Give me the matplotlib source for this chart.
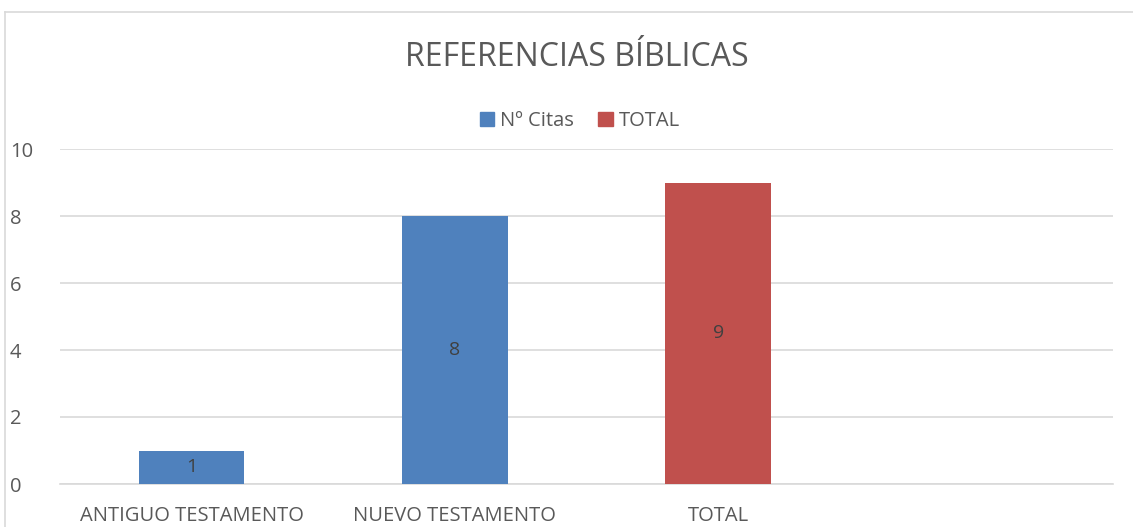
import matplotlib.pyplot as plt
from matplotlib.lines import Line2D
from matplotlib.patches import Patch

categories = ['ANTIGUO TESTAMENTO', 'NUEVO TESTAMENTO', 'TOTAL', '']
citas = [1, 8, None, None]
total = [None, None, 9, None]
series_names = ['Nº Citas', 'TOTAL']

blue = '#4F81BD'
red = '#C0504D'
text_col = '#595959'

plt.rcParams['font.family'] = ['Open Sans', 'DejaVu Sans']

W, H = 1133, 527
fig = plt.figure(figsize=(W / 100, H / 100), dpi=100)
ax = fig.add_axes([60 / W, 1 - 484 / H, (1113 - 60) / W, (484 - 149) / H])

x = list(range(len(categories)))
for vals, colour in [(citas, blue), (total, red)]:
    for xi, v in zip(x, vals):
        if v is None:
            continue
        ax.bar(xi, v, width=0.4, color=colour, zorder=3)
        ax.text(xi, v / 2, str(v), ha='center', va='center',
                fontsize=14, color='#404040', zorder=4)

ax.set_xlim(-0.5, len(categories) - 0.5)
ax.set_ylim(0, 10)
ax.set_yticks(range(0, 11, 2))
ax.yaxis.grid(True, color='#d9d9d9', linewidth=1.2, zorder=0)
ax.set_axisbelow(True)
ax.set_xticks(x)
ax.set_xticklabels(categories)
ax.tick_params(length=0, labelsize=14.5, colors=text_col, pad=16)
ax.tick_params(axis='y', pad=36)
for lab in ax.get_yticklabels():
    lab.set_ha('left')
for side in ['top', 'right', 'left']:
    ax.spines[side].set_visible(False)
ax.spines['bottom'].set_color('#d9d9d9')
ax.spines['bottom'].set_linewidth(1.2)

fig.text(577 / W, 1 - 57 / H, 'REFERENCIAS BÍBLICAS', ha='center', va='center',
         fontsize=23, color=text_col)

handles = [Patch(color=blue), Patch(color=red)]
fig.legend(handles, series_names, loc='center', bbox_to_anchor=(580 / W, 1 - 121 / H),
           ncol=2, frameon=False, fontsize=14.5, labelcolor=text_col,
           handlelength=0.7, handleheight=0.7, handletextpad=0.3, columnspacing=1.2)

# chart border (cropped at right and bottom)
fig.add_artist(Line2D([4.5 / W, 4.5 / W], [0, 1 - 12 / H], transform=fig.transFigure,
                      color='#d9d9d9', linewidth=1.2))
fig.add_artist(Line2D([4.5 / W, 1], [1 - 12 / H, 1 - 12 / H], transform=fig.transFigure,
                      color='#d9d9d9', linewidth=1.2))

fig.savefig('out.png', dpi=100)
